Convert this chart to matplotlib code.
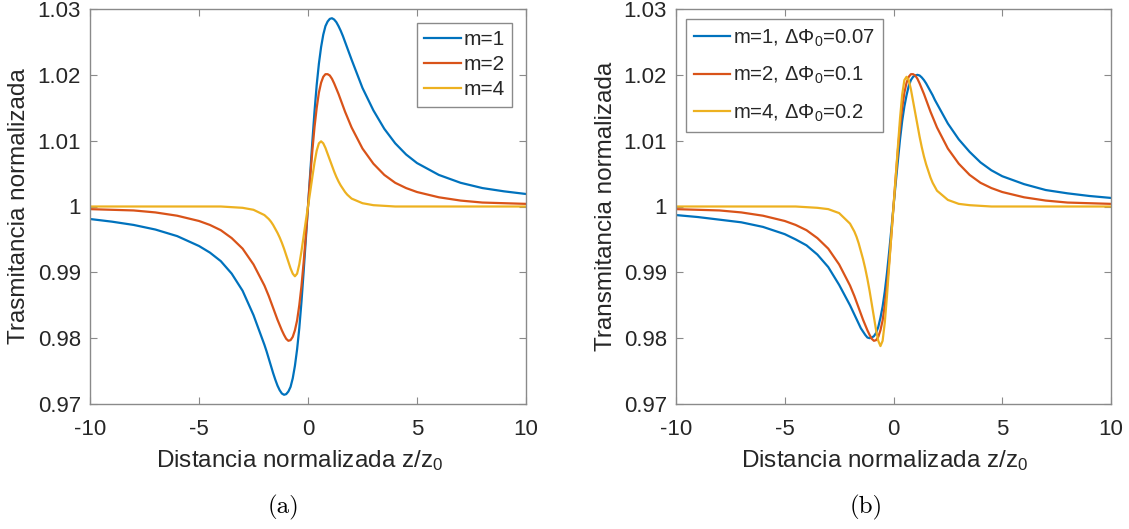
import numpy as np
import matplotlib
matplotlib.use("Agg")
import matplotlib.pyplot as plt
from matplotlib.ticker import FixedLocator, FixedFormatter

plt.rcParams['font.family'] = ['Liberation Sans', 'DejaVu Sans']
plt.rcParams['mathtext.fontset'] = 'custom'
plt.rcParams['mathtext.rm'] = 'Liberation Sans'
plt.rcParams['mathtext.it'] = 'Liberation Sans'

# normalized distance z/z0 (sample positions)
z = [-10, -9, -8, -7, -6, -5, -4.5, -4, -3.5, -3, -2.5,
     -2.0, -1.9, -1.8, -1.7, -1.6, -1.5, -1.4, -1.3, -1.2, -1.1,
     -1.0, -0.9, -0.8, -0.7, -0.6, -0.5, -0.4, -0.3, -0.2, -0.1,
     0.0,
     0.1, 0.2, 0.3, 0.4, 0.5, 0.6, 0.7, 0.8, 0.9, 1.0,
     1.1, 1.2, 1.3, 1.4, 1.5, 1.6, 1.7, 1.8, 1.9, 2.0,
     2.5, 3, 3.5, 4, 4.5, 5, 6, 7, 8, 9, 10]

# panel (a): normalized transmittance
Ta_m1 = [0.9981, 0.9977, 0.9972, 0.9965, 0.9955, 0.9940, 0.9930, 0.9917, 0.9898, 0.9872, 0.9835,
         0.9790, 0.9780, 0.9769, 0.9758, 0.9747, 0.9737, 0.9728, 0.9721, 0.9716, 0.9714,
         0.9715, 0.9719, 0.9726, 0.9739, 0.9758, 0.9783, 0.9815, 0.9855, 0.9901, 0.9950,
         1.0000,
         1.0050, 1.0099, 1.0145, 1.0185, 1.0217, 1.0242, 1.0261, 1.0274, 1.0281, 1.0285,
         1.0286, 1.0284, 1.0280, 1.0274, 1.0267, 1.0259, 1.0250, 1.0241, 1.0232, 1.0223,
         1.0180, 1.0146, 1.0118, 1.0096, 1.0079, 1.0066, 1.0048, 1.0036, 1.0028, 1.0023, 1.0019]
Ta_m2 = [0.9996, 0.9995, 0.9994, 0.9991, 0.9986, 0.9978, 0.9972, 0.9964, 0.9952, 0.9936, 0.9912,
         0.9880, 0.9872, 0.9864, 0.9855, 0.9846, 0.9837, 0.9828, 0.9820, 0.9812, 0.9805,
         0.9799, 0.9796, 0.9797, 0.9802, 0.9812, 0.9827, 0.9850, 0.9879, 0.9915, 0.9956,
         1.0000,
         1.0044, 1.0085, 1.0121, 1.0150, 1.0173, 1.0188, 1.0197, 1.0201, 1.0201, 1.0199,
         1.0194, 1.0187, 1.0179, 1.0171, 1.0162, 1.0153, 1.0144, 1.0136, 1.0128, 1.0120,
         1.0088, 1.0065, 1.0048, 1.0036, 1.0028, 1.0022, 1.0014, 1.0009, 1.0006, 1.0005, 1.0004]
Ta_m4 = [1.0000, 1.0000, 1.0000, 1.0000, 1.0000, 1.0000, 1.0000, 1.0000, 0.9999, 0.9998, 0.9995,
         0.9987, 0.9984, 0.9981, 0.9977, 0.9972, 0.9966, 0.9960, 0.9953, 0.9945, 0.9936,
         0.9926, 0.9916, 0.9906, 0.9898, 0.9894, 0.9898, 0.9912, 0.9932, 0.9955, 0.9978,
         1.0000,
         1.0022, 1.0045, 1.0067, 1.0085, 1.0096, 1.0099, 1.0096, 1.0089, 1.0080, 1.0071,
         1.0062, 1.0053, 1.0045, 1.0038, 1.0032, 1.0027, 1.0022, 1.0018, 1.0015, 1.0012,
         1.0005, 1.0002, 1.0001, 1.0000, 1.0000, 1.0000, 1.0000, 1.0000, 1.0000, 1.0000, 1.0000]

# panel (b)
Tb_m1 = [0.9987, 0.9984, 0.9980, 0.9976, 0.9969, 0.9958, 0.9950, 0.9941, 0.9927, 0.9908, 0.9881,
         0.9850, 0.9843, 0.9836, 0.9829, 0.9822, 0.9815, 0.9810, 0.9805, 0.9801, 0.9800,
         0.9801, 0.9803, 0.9808, 0.9817, 0.9831, 0.9848, 0.9871, 0.9899, 0.9931, 0.9965,
         1.0000,
         1.0035, 1.0069, 1.0102, 1.0130, 1.0152, 1.0169, 1.0183, 1.0192, 1.0197, 1.0199,
         1.0200, 1.0199, 1.0196, 1.0192, 1.0187, 1.0181, 1.0175, 1.0169, 1.0162, 1.0156,
         1.0126, 1.0102, 1.0083, 1.0067, 1.0055, 1.0046, 1.0034, 1.0025, 1.0020, 1.0016, 1.0013]
Tb_m2 = [0.9996, 0.9995, 0.9994, 0.9991, 0.9986, 0.9978, 0.9972, 0.9964, 0.9952, 0.9936, 0.9912,
         0.9880, 0.9872, 0.9864, 0.9855, 0.9846, 0.9837, 0.9828, 0.9820, 0.9812, 0.9805,
         0.9799, 0.9796, 0.9797, 0.9802, 0.9812, 0.9827, 0.9850, 0.9879, 0.9915, 0.9956,
         1.0000,
         1.0044, 1.0085, 1.0121, 1.0150, 1.0173, 1.0188, 1.0197, 1.0201, 1.0201, 1.0199,
         1.0194, 1.0187, 1.0179, 1.0171, 1.0162, 1.0153, 1.0144, 1.0136, 1.0128, 1.0120,
         1.0088, 1.0065, 1.0048, 1.0036, 1.0028, 1.0022, 1.0014, 1.0009, 1.0006, 1.0005, 1.0004]
Tb_m4 = [1.0000, 1.0000, 1.0000, 1.0000, 1.0000, 1.0000, 1.0000, 0.9999, 0.9998, 0.9996, 0.9990,
         0.9974, 0.9968, 0.9962, 0.9954, 0.9944, 0.9932, 0.9920, 0.9906, 0.9890, 0.9872,
         0.9852, 0.9832, 0.9812, 0.9796, 0.9788, 0.9796, 0.9824, 0.9864, 0.9910, 0.9956,
         1.0000,
         1.0044, 1.0090, 1.0134, 1.0170, 1.0192, 1.0197, 1.0192, 1.0178, 1.0160, 1.0142,
         1.0124, 1.0106, 1.0090, 1.0076, 1.0064, 1.0054, 1.0044, 1.0036, 1.0030, 1.0024,
         1.0010, 1.0004, 1.0002, 1.0001, 1.0000, 1.0000, 1.0000, 1.0000, 1.0000, 1.0000, 1.0000]

labels_a = ["m=1", "m=2", "m=4"]
labels_b = [r"m=1, $\Delta\Phi_0$=0.07", r"m=2, $\Delta\Phi_0$=0.1", r"m=4, $\Delta\Phi_0$=0.2"]
colors = ["#0072BD", "#D95319", "#EDB120"]

xticks = [-10, -5, 0, 5, 10]
xticklabels = ["-10", "-5", "0", "5", "10"]
yticks = [0.97, 0.98, 0.99, 1.00, 1.01, 1.02, 1.03]
yticklabels = ["0.97", "0.98", "0.99", "1", "1.01", "1.02", "1.03"]

txt = "#262626"
edge = "#8a8a8a"
fs = 16


def style_ax(ax, ylabel, ylab_x):
    ax.set_xlim(-10, 10)
    ax.set_ylim(0.97, 1.03)
    ax.xaxis.set_major_locator(FixedLocator(xticks))
    ax.xaxis.set_major_formatter(FixedFormatter(xticklabels))
    ax.yaxis.set_major_locator(FixedLocator(yticks))
    ax.yaxis.set_major_formatter(FixedFormatter(yticklabels))
    ax.tick_params(direction="in", length=5, width=0.8, color=edge, labelcolor=txt,
                   labelsize=fs, top=True, right=True)
    ax.tick_params(axis="x", pad=10.5)
    ax.tick_params(axis="y", pad=6.5)
    for s in ax.spines.values():
        s.set_color(edge)
        s.set_linewidth(1.0)
    ax.set_xlabel(r"Distancia normalizada z/z$_0$", fontsize=17.5, color=txt)
    ax.set_ylabel(ylabel, fontsize=17.5, color=txt)
    ax.xaxis.set_label_coords(0.48, -0.112)
    ax.yaxis.set_label_coords(ylab_x, 0.5)


fig = plt.figure(figsize=(11.29, 5.29), dpi=100)
axa = fig.add_axes([90 / 1129, 125 / 529, 436 / 1129, 395 / 529])
axb = fig.add_axes([676 / 1129, 125 / 529, 435 / 1129, 395 / 529])

for T, lab, c in zip([Ta_m1, Ta_m2, Ta_m4], labels_a, colors):
    axa.plot(z, T, color=c, lw=1.6, label=lab)
for T, lab, c in zip([Tb_m1, Tb_m2, Tb_m4], labels_b, colors):
    axb.plot(z, T, color=c, lw=1.6, label=lab)

style_ax(axa, "Trasmitancia normalizada", -0.137)
style_ax(axb, "Transmitancia normalizada", -0.135)

leg_a = axa.legend(loc="upper right", fontsize=15, fancybox=False, framealpha=1, edgecolor=edge,
                   handlelength=1.75, handletextpad=0.15, labelspacing=0.3,
                   borderpad=0.35, borderaxespad=0.65)
leg_b = axb.legend(loc="upper left", fontsize=14.6, fancybox=False, framealpha=1, edgecolor=edge,
                   handlelength=1.75, handletextpad=0.15, labelspacing=0.8,
                   borderpad=0.4, borderaxespad=0.5)
for leg in (leg_a, leg_b):
    leg.get_frame().set_linewidth(1.0)
    for t in leg.get_texts():
        t.set_color(txt)

fig.text(283 / 1129, 1 - 507 / 529, "(a)", family="cmr10", fontsize=18, ha="center", va="center")
fig.text(866 / 1129, 1 - 507 / 529, "(b)", family="cmr10", fontsize=18, ha="center", va="center")

fig.savefig("out.png", dpi=100)
